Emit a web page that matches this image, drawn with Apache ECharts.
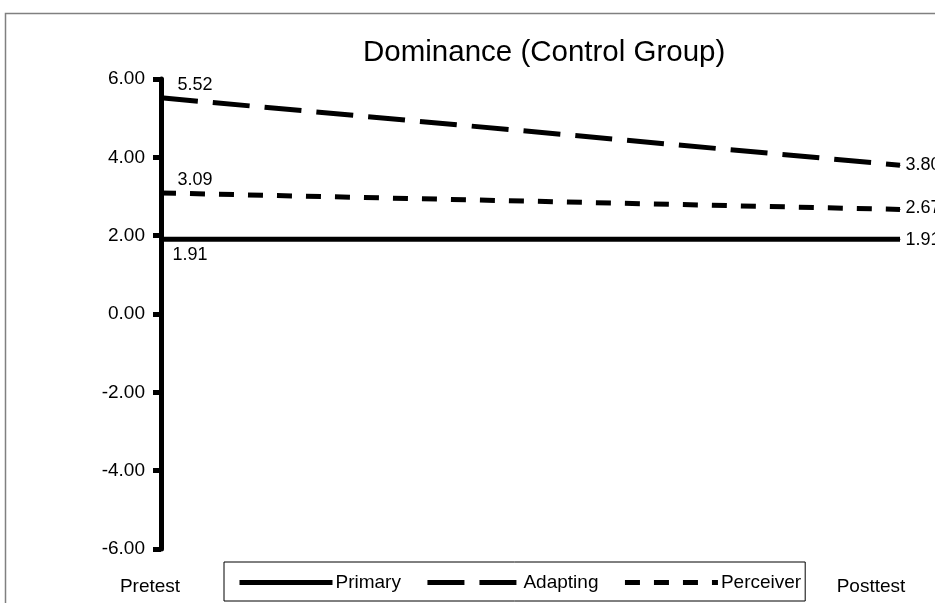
<!DOCTYPE html>
<html>
<head>
<meta charset="utf-8">
<script src="https://cdn.jsdelivr.net/npm/echarts@6/dist/echarts.min.js"></script>
<style>
  html, body { margin: 0; padding: 0; background: #fff; }
  #chart { width: 935px; height: 603px; }
</style>
</head>
<body>
<div id="chart"></div>
<script>
// chart data
const categories = ['Pretest', 'Posttest'];
const seriesNames = ['Primary', 'Adapting', 'Perceiver'];
const primary = [1.91, 1.91];
const adapting = [5.52, 3.80];
const perceiver = [3.09, 2.67];
const yTicks = [-6, -4, -2, 0, 2, 4, 6];

// styles kept apart from the data
const FONT = '"Liberation Sans", Arial, sans-serif';
const dashes = ['solid', [37, 15], [15, 14]];
// label offsets for [Pretest, Posttest] of each series
const labelOffsets = [
  [[6, 16], [0, 1]],
  [[11, -13], [0, 0]],
  [[11, -13], [0, -1]]
];

const chart = echarts.init(document.getElementById('chart'));

const seriesData = [primary, adapting, perceiver];

const option = {
  animation: false,
  backgroundColor: '#fff',
  title: {
    text: 'Dominance (Control Group)',
    left: 358,
    top: 33,
    textStyle: { fontFamily: FONT, fontSize: 29.5, fontWeight: 'normal', color: '#000' }
  },
  legend: {
    data: seriesNames,
    left: 224,
    top: 562,
    padding: [11, 4, 9, 13],
    itemWidth: 93,
    itemHeight: 15,
    itemGap: 24,
    borderColor: '#000',
    borderWidth: 1,
    backgroundColor: '#fff',
    itemStyle: { color: 'rgba(0,0,0,0)', borderWidth: 0 },
    lineStyle: { width: 5 },
    textStyle: { fontFamily: FONT, fontSize: 19, lineHeight: 15, color: '#000', padding: [0, 0, 0, -2] }
  },
  grid: { left: 161, right: 35, top: 79, bottom: 54, containLabel: false },
  xAxis: {
    type: 'category',
    data: categories,
    boundaryGap: false,
    axisLine: { show: false },
    axisTick: { show: false },
    splitLine: { show: false },
    axisLabel: {
      margin: 28,
      interval: 0,
      formatter: (v, i) => (i === 0 ? '{a|' + v + '}' : '{b|' + v + '}'),
      rich: {
        a: { fontFamily: FONT, fontSize: 19, color: '#000', padding: [0, 22, 0, 0] },
        b: { fontFamily: FONT, fontSize: 19, color: '#000', padding: [0, 58, 0, 0] }
      }
    }
  },
  yAxis: {
    type: 'value',
    min: yTicks[0],
    max: yTicks[yTicks.length - 1],
    interval: 2,
    splitLine: { show: false },
    axisLine: { show: true, lineStyle: { color: '#000', width: 5 } },
    axisTick: { show: true, length: 8, lineStyle: { color: '#000', width: 5 } },
    axisLabel: {
      margin: 16,
      fontFamily: FONT,
      fontSize: 19,
      color: '#000',
      formatter: v => v.toFixed(2)
    }
  },
  graphic: [{
    type: 'rect',
    shape: { x: 5.5, y: 13.5, width: 1000, height: 700 },
    style: { fill: 'none', stroke: '#808080', lineWidth: 1.5 },
    z: -10,
    silent: true
  }],
  series: seriesNames.map((name, s) => ({
    name: name,
    type: 'line',
    symbol: 'circle',
    symbolSize: 1,
    itemStyle: { color: '#000' },
    lineStyle: { color: '#000', width: 5, type: dashes[s], cap: 'butt' },
    data: seriesData[s].map((v, i) => ({
      value: v,
      label: {
        show: true,
        position: 'right',
        offset: labelOffsets[s][i],
        formatter: p => p.value.toFixed(2),
        fontFamily: FONT,
        fontSize: 18,
        color: '#000'
      }
    }))
  }))
};

chart.setOption(option);
</script>
</body>
</html>
